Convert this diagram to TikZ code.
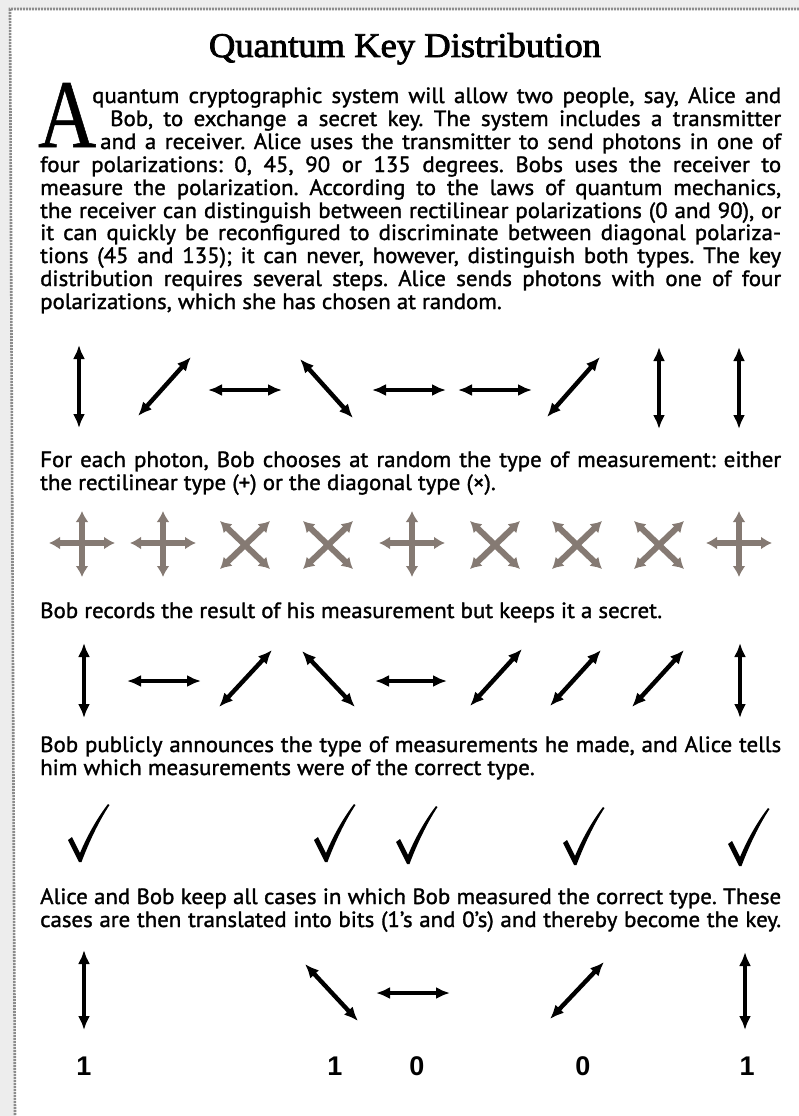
\documentclass[tikz,border=0pt]{standalone}
\usepackage{fontspec}
\usepackage{graphicx}
\usetikzlibrary{arrows.meta}
\setmainfont{PT Sans}[FakeBold=1.4]
\newfontfamily\titlefont{Liberation Serif}[FakeBold=2.2]
\newfontfamily\capfont{Liberation Serif}[FakeBold=0.6]
\newfontfamily\numfont{Liberation Sans}
\definecolor{crossc}{HTML}{857A73}
\definecolor{framec}{HTML}{8C8C8C}
\definecolor{outerc}{HTML}{EDEDED}
\newlength\reflen
\newcommand\bodysize{\fontsize{22}{23}\selectfont}
\newcommand\tline[4]{\node[txt] (#1) at (#2,#3) {\scalebox{\hs}[1]{#4}};}
\newcommand\jline[5]{\pgfmathsetmacro\jw{#4/\hs}\node[txt] (#1) at (#2,#3) {\scalebox{\hs}[1]{\makebox[\jw pt][s]{#5}}};}
\frenchspacing
\begin{document}
\settowidth\reflen{\bodysize Bob records the result of his measurement but keeps it a secret.}%
\pgfmathsetmacro\hs{622/\reflen}%
\begin{tikzpicture}[x=1pt,y=-1pt,
  txt/.style={anchor=base west,inner sep=0pt,font=\bodysize},
  pol/.style={line width=4.4pt,{Latex[length=14pt,width=12pt]}-{Latex[length=14pt,width=12pt]}},
  meas/.style={crossc,line width=5.5pt,{Latex[length=11pt,width=13pt]}-{Latex[length=11pt,width=13pt]}},
  bit/.style={anchor=base,inner sep=0pt,font=\numfont\bfseries\fontsize{27}{27}\selectfont},
  chk/.pic={\fill (-12,-21) -- (-8,-24) -- (0,-8) .. controls (8,-27) and (18,-44) .. (28,-57) -- (29.5,-56) .. controls (19,-40) and (9,-19) .. (1.5,1) -- (-1,1) -- cycle;}]
\useasboundingbox (0,0) rectangle (799,1116);
\fill[outerc] (0,0) rectangle (799,1116);
\fill[white] (10,9) -- (799,9) -- (799,1116) -- (15,1116) -- cycle;
\draw[framec,line width=2.6pt,dash pattern=on 2pt off 1pt] (799,9) -- (10,9) -- (15,1116);

% title and drop cap
\node[anchor=base,inner sep=0pt] (title) at (405,57) {\resizebox{392pt}{24pt}{\titlefont Quantum Key Distribution}};
\node[anchor=base west,inner sep=0pt] (dropA) at (38,147) {\resizebox{58pt}{64pt}{\capfont A}};

% intro paragraph
\jline{l1}{92}{103}{689}{quantum cryptographic system will allow two people, say, Alice and}
\jline{l2}{110}{126}{671}{Bob, to exchange a secret key. The system includes a transmitter}
\jline{l3}{100}{149}{681}{and a receiver. Alice uses the transmitter to send photons in one of}
\jline{l4}{40}{172}{741}{four polarizations: 0, 45, 90 or 135 degrees. Bobs uses the receiver to}
\jline{l5}{40}{195}{741}{measure the polarization. According to the laws of quantum mechanics,}
\jline{l6}{40}{218}{741}{the receiver can distinguish between rectilinear polarizations (0 and 90), or}
\jline{l7}{40}{240}{741}{it can quickly be reconfigured to discriminate between diagonal polariza-}
\jline{l8}{40}{263}{741}{tions (45 and 135); it can never, however, distinguish both types. The key}
\jline{l9}{40}{286}{741}{distribution requires several steps. Alice sends photons with one of four}
\tline{l10}{40}{309}{polarizations, which she has chosen at random.}

% Alice's photons
\draw[pol] (79,345) -- (79,428);
\draw[pol] (138,416) -- (191,357);
\draw[pol] (208,390) -- (282,390);
\draw[pol] (300,359) -- (353,418);
\draw[pol] (372,390) -- (446,390);
\draw[pol] (458,390) -- (532,390);
\draw[pol] (547,417) -- (600,357);
\draw[pol] (659,347) -- (659,429);
\draw[pol] (739,347) -- (739,429);

\jline{s1}{40}{467}{741}{For each photon, Bob chooses at random the type of measurement: either}
\tline{s1b}{40}{490}{the rectilinear type (+) or the diagonal type (×).}

% Bob's measurement types
\foreach \cx in {82,163,412,739}{
  \draw[meas] (\cx-33,543) -- (\cx+33,543);
  \draw[meas] (\cx,511) -- (\cx,577);
}
\foreach \cx in {245,328,495,577,659}{
  \draw[meas,line width=6pt] (\cx-25,569) -- (\cx+25,521);
  \draw[meas,line width=6pt] (\cx-25,521) -- (\cx+25,569);
}

\tline{s2}{40}{618}{Bob records the result of his measurement but keeps it a secret.}

% Bob's results
\draw[pol] (84,643) -- (84,718);
\draw[pol] (127,681) -- (201,681);
\draw[pol] (219,707) -- (272,650);
\draw[pol] (302,651) -- (355,707);
\draw[pol] (375,681) -- (447,681);
\draw[pol] (470,706) -- (522,649);
\draw[pol] (550,706) -- (601,650);
\draw[pol] (632,707) -- (684,650);
\draw[pol] (740,643) -- (740,718);

\jline{s3}{40}{752}{741}{Bob publicly announces the type of measurements he made, and Alice tells}
\tline{s3b}{40}{775}{him which measurements were of the correct type.}

% correct-type checks
\pic at (80,861) {chk};
\pic at (326,861) {chk};
\pic at (408,863) {chk};
\pic at (575,864) {chk};
\pic at (740,865) {chk};

\jline{s4}{40}{904}{741}{Alice and Bob keep all cases in which Bob measured the correct type. These}
\jline{s4b}{40}{927}{741}{cases are then translated into bits (1’s and 0’s) and thereby become the key.}

% key
\draw[pol] (84,950) -- (84,1030);
\draw[pol] (305,964) -- (358,1021);
\draw[pol] (376,993) -- (450,993);
\draw[pol] (550,1019) -- (604,962);
\draw[pol] (745,952) -- (745,1030);

\node[bit] (b1) at (84,1075) {1};
\node[bit] (b2) at (335,1075) {1};
\node[bit] (b3) at (417,1075) {0};
\node[bit] (b4) at (583,1075) {0};
\node[bit] (b5) at (747,1075) {1};
\end{tikzpicture}
\end{document}
